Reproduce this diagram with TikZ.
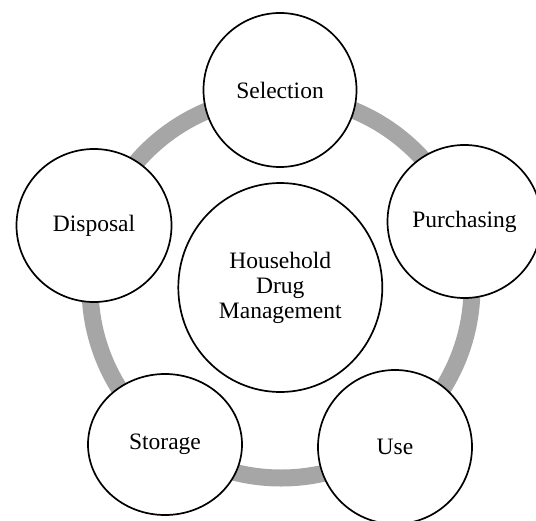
\documentclass[tikz,border=0pt]{standalone}
\usepackage{fontspec}
\setmainfont{Liberation Serif}
\usetikzlibrary{shapes.geometric}
\definecolor{ringgray}{RGB}{166,166,166}
\tikzset{
  stage/.style={draw=black, line width=1.7bp, fill=white, ellipse, inner sep=0pt,
    font=\fontsize{23.6pt}{25.1pt}\selectfont, align=center},
}
\begin{document}
\begin{tikzpicture}[x=1bp, y=-1bp]
\useasboundingbox (0,0) rectangle (536,521);
\clip (0,0) rectangle (536,521);
\draw[ringgray, line width=17bp] (281,287) circle[radius=191];
\node[stage, minimum width=153bp, minimum height=154bp] (sel) at (280,90) {Selection};
\node[stage, minimum width=154bp, minimum height=153bp] (pur) at (464.5,221.5) {Purchasing};
\node[stage, minimum width=154bp, minimum height=154bp] (use) at (395,447) {Use};
\node[stage, minimum width=154bp, minimum height=141bp] (sto) at (165,444.5) {Storage};
\node[stage, minimum width=155bp, minimum height=153bp] (dis) at (94,225.5) {Disposal};
\node[stage, minimum width=204bp, minimum height=209bp] (hdm) at (280.3,287.5) {Household\\Drug\\Management};
\end{tikzpicture}
\end{document}
